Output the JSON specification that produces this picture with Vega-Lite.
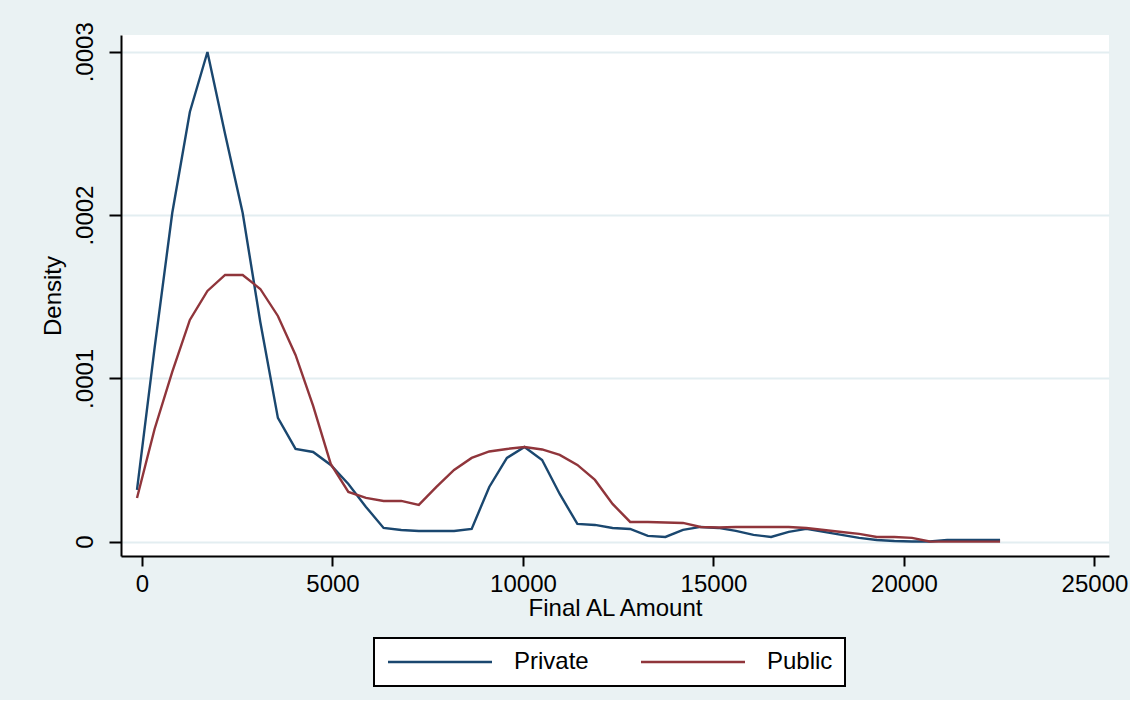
{
  "$schema": "https://vega.github.io/schema/vega-lite/v6.json",
  "width": 988,
  "height": 521,
  "autosize": {"type": "none"},
  "padding": {"left": 121, "top": 35, "right": 21, "bottom": 144},
  "background": "#eaf2f3",
  "config": {
    "view": {"fill": "white", "stroke": null},
    "font": "Liberation Sans",
    "legend": {"strokeWidth": 2},
    "axis": {
      "domainColor": "black",
      "domainWidth": 2,
      "tickColor": "black",
      "tickWidth": 2,
      "labelColor": "black",
      "labelFont": "Liberation Sans",
      "labelFontSize": 24,
      "titleFont": "Liberation Sans",
      "titleFontSize": 24,
      "titleFontWeight": "normal",
      "titleColor": "black"
    }
  },
  "data": {
    "values": [
      {"x": -131, "Private": 3.166e-5, "Public": 2.676e-5},
      {"x": 331, "Private": 1.1862e-4, "Public": 6.901e-5},
      {"x": 794, "Private": 2.0129e-4, "Public": 1.0392e-4},
      {"x": 1256, "Private": 2.6314e-4, "Public": 1.3576e-4},
      {"x": 1718, "Private": 2.9988e-4, "Public": 1.5352e-4},
      {"x": 2181, "Private": 2.4967e-4, "Public": 1.6332e-4},
      {"x": 2643, "Private": 2.0129e-4, "Public": 1.6332e-4},
      {"x": 3105, "Private": 1.3454e-4, "Public": 1.5475e-4},
      {"x": 3567, "Private": 7.575e-5, "Public": 1.3821e-4},
      {"x": 4030, "Private": 5.677e-5, "Public": 1.1433e-4},
      {"x": 4492, "Private": 5.493e-5, "Public": 8.31e-5},
      {"x": 4954, "Private": 4.697e-5, "Public": 4.758e-5},
      {"x": 5417, "Private": 3.533e-5, "Public": 3.043e-5},
      {"x": 5879, "Private": 2.125e-5, "Public": 2.676e-5},
      {"x": 6341, "Private": 8.39e-6, "Public": 2.492e-5},
      {"x": 6804, "Private": 7.16e-6, "Public": 2.492e-5},
      {"x": 7266, "Private": 6.55e-6, "Public": 2.247e-5},
      {"x": 7728, "Private": 6.55e-6, "Public": 3.35e-5},
      {"x": 8191, "Private": 6.55e-6, "Public": 4.391e-5},
      {"x": 8653, "Private": 7.78e-6, "Public": 5.126e-5},
      {"x": 9115, "Private": 3.35e-5, "Public": 5.524e-5},
      {"x": 9578, "Private": 5.126e-5, "Public": 5.677e-5},
      {"x": 10040, "Private": 5.799e-5, "Public": 5.799e-5},
      {"x": 10502, "Private": 5.003e-5, "Public": 5.646e-5},
      {"x": 10964, "Private": 2.921e-5, "Public": 5.309e-5},
      {"x": 11427, "Private": 1.084e-5, "Public": 4.697e-5},
      {"x": 11889, "Private": 1.023e-5, "Public": 3.778e-5},
      {"x": 12351, "Private": 8.39e-6, "Public": 2.309e-5},
      {"x": 12813, "Private": 7.78e-6, "Public": 1.206e-5},
      {"x": 13276, "Private": 3.49e-6, "Public": 1.206e-5},
      {"x": 13738, "Private": 2.88e-6, "Public": 1.176e-5},
      {"x": 14200, "Private": 7.16e-6, "Public": 1.145e-5},
      {"x": 14663, "Private": 9.0e-6, "Public": 9.0e-6},
      {"x": 15125, "Private": 8.39e-6, "Public": 8.7e-6},
      {"x": 15587, "Private": 6.55e-6, "Public": 9.0e-6},
      {"x": 16050, "Private": 4.1e-6, "Public": 9.0e-6},
      {"x": 16512, "Private": 2.88e-6, "Public": 9.0e-6},
      {"x": 16974, "Private": 5.94e-6, "Public": 9.0e-6},
      {"x": 17436, "Private": 7.78e-6, "Public": 8.39e-6},
      {"x": 17899, "Private": 5.94e-6, "Public": 7.16e-6},
      {"x": 18361, "Private": 4.1e-6, "Public": 5.94e-6},
      {"x": 18823, "Private": 2.27e-6, "Public": 4.72e-6},
      {"x": 19286, "Private": 1.04e-6, "Public": 2.88e-6},
      {"x": 19748, "Private": 4.3e-7, "Public": 2.88e-6},
      {"x": 20210, "Private": 1.2e-7, "Public": 2.27e-6},
      {"x": 20673, "Private": 1.2e-7, "Public": 1.2e-7},
      {"x": 21135, "Private": 1.04e-6, "Public": 0},
      {"x": 21597, "Private": 1.04e-6, "Public": 0},
      {"x": 22060, "Private": 1.04e-6, "Public": 0},
      {"x": 22522, "Private": 1.04e-6, "Public": 0}
    ]
  },
  "transform": [{"fold": ["Private", "Public"], "as": ["series", "density"]}],
  "mark": {"type": "line", "strokeWidth": 2.4, "clip": true},
  "encoding": {
    "x": {
      "field": "x",
      "type": "quantitative",
      "title": "Final AL Amount",
      "scale": {"domain": [-551, 25381], "nice": false, "zero": false},
      "axis": {
        "values": [0, 5000, 10000, 15000, 20000, 25000],
        "format": "d",
        "grid": false,
        "tickSize": 10,
        "labelPadding": 6,
        "titlePadding": 0,
        "labelFlush": false
      }
    },
    "y": {
      "field": "density",
      "type": "quantitative",
      "title": "Density",
      "scale": {"domain": [-0.0000088, 0.00031029], "nice": false, "zero": false},
      "axis": {
        "values": [0, 0.0001, 0.0002, 0.0003],
        "labelExpr": "datum.value == 0 ? '0' : replace(format(datum.value, '.4f'), '0.', '.')",
        "labelAngle": -90,
        "labelAlign": "center",
        "labelBaseline": "bottom",
        "labelPadding": 12,
        "tickSize": 12,
        "grid": true,
        "gridColor": "#e3eef1",
        "gridWidth": 2,
        "titlePadding": 8,
        "labelFlush": false
      }
    },
    "color": {
      "field": "series",
      "type": "nominal",
      "scale": {"domain": ["Private", "Public"], "range": ["#1a476f", "#90353b"]},
      "legend": {
        "title": null,
        "orient": "none",
        "legendX": 253,
        "legendY": 603,
        "direction": "horizontal",
        "columns": 2,
        "symbolType": "M-1,0H9.4",
        "symbolSize": 400,
        "symbolStrokeWidth": 2.4,
        "labelFontSize": 24,
        "labelColor": "black",
        "labelFont": "Liberation Sans",
        "labelOffset": 104,
        "columnPadding": 47,
        "padding": 12,
        "strokeColor": "black",
        "fillColor": "white",
        "cornerRadius": 0
      }
    }
  }
}
